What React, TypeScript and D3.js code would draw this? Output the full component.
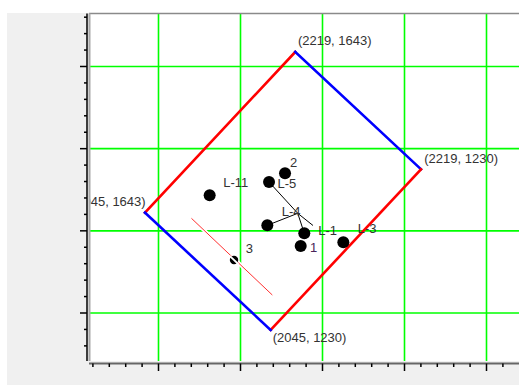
import React from "react";
import * as d3 from "d3";

// World axes (arbitrary survey units), gridlines every 100, minor ticks every 20
const xGridValues = [100, 200, 300, 400, 500];
const yGridValues = [100, 200, 300, 400];
const xMinorTicks = d3.range(20, 560, 20);
const yMinorTicks = d3.range(60, 480, 20);

// Local block frame (easting / northing) mapped onto the world axes
const localXExtent = [2045, 2219];
const localYExtent = [1230, 1643];
const frameOrigin = [236.8, 79.3]; // world position of (2045, 1230)
const frameSpanX = [183.3, 195.6]; // world offset across the local x extent
const frameSpanY = [-153.3, 142.8]; // world offset across the local y extent

// Block corners in local coordinates, with label offsets (px) and anchor
const cornerNames = ["top", "right", "bottom", "left"];
const cornerLocalX = [2219, 2219, 2045, 2045];
const cornerLocalY = [1643, 1230, 1230, 1643];
const cornerLabelDx = [2.6, 3.3, 2, 0.7];
const cornerLabelDy = [-6.7, -6, 11.7, -7];
const cornerLabelAnchor = ["start", "start", "start", "end"];

// Edge colours: constant-northing edges red, constant-easting edges blue
const edgeFrom = [3, 0, 1, 2];
const edgeTo = [0, 1, 2, 3];
const edgeColors = ["#ff0000", "#0000ff", "#ff0000", "#0000ff"];

// Points in world coordinates
const pointNames = ["L-11", "2", "L-5", "L-4", "L-1", "1", "L-3"];
const pointX = [162.4, 254.3, 234.8, 232.7, 277.8, 273.4, 325.4];
const pointY = [243.2, 270.0, 259.4, 206.7, 197.0, 181.5, 186.0];
const pointLabelDx = [13.5, 5, 8.5, 14.4, 14, 9.3, 14.4];
const pointLabelDy = [-8, -6, 6.3, -9.6, 1.7, 5.7, -9];
const pointLabelColors = ["#333", "#333", "#333", "#333", "#333", "#4a235a", "#333"];

// Small marker "3"
const markerName = "3";
const markerX = 192.1;
const markerY = 164.5;

// Tie lines from a common junction
const junction = [269.8, 221.3];
const tieEndX = [234.8, 232.7, 277.8, 288.4];
const tieEndY = [259.4, 206.7, 197.0, 206.5];

// Thin reference line
const refLineX = [140.2, 238.8];
const refLineY = [215.2, 121.9];

const W = 519;
const H = 385;
const plotLeft = 89;
const plotTop = 13.5;
const plotRight = 530;
const plotBottom = 361;

const xScale = d3.scaleLinear().domain([0, 600]).range([76.5, 568.5]);
const yScale = d3.scaleLinear().domain([0, 500]).range([395.17, -15.68]);

function toWorld(lx: number, ly: number): [number, number] {
  const t = (lx - localXExtent[0]) / (localXExtent[1] - localXExtent[0]);
  const s = (ly - localYExtent[0]) / (localYExtent[1] - localYExtent[0]);
  return [
    frameOrigin[0] + t * frameSpanX[0] + s * frameSpanY[0],
    frameOrigin[1] + t * frameSpanX[1] + s * frameSpanY[1],
  ];
}

const font = "'Liberation Sans', Arial, sans-serif";

export default function App() {
  const corners = cornerLocalX.map((lx, i) => {
    const [wx, wy] = toWorld(lx, cornerLocalY[i]);
    return { name: cornerNames[i], lx, ly: cornerLocalY[i], px: xScale(wx), py: yScale(wy) };
  });

  const line = d3.line<[number, number]>().x((d) => xScale(d[0])).y((d) => yScale(d[1]));

  const xMinor = xMinorTicks.map((v) => xScale(v)).filter((p) => p >= plotLeft && p <= W);
  const yMinor = yMinorTicks.map((v) => yScale(v)).filter((p) => p >= plotTop && p <= plotBottom);
  const xMajorSet = new Set(xGridValues);
  const yMajorSet = new Set(yGridValues);

  const mx = xScale(markerX);
  const my = yScale(markerY);
  const rdx = xScale(refLineX[1]) - xScale(refLineX[0]);
  const rdy = yScale(refLineY[1]) - yScale(refLineY[0]);
  const rlen = Math.hypot(rdx, rdy);
  const ux = rdx / rlen;
  const uy = rdy / rlen;

  return (
    <svg
      width={W}
      height={H}
      style={{ position: "absolute", left: 0, top: 0, display: "block" }}
      fontFamily={font}
    >
      <defs>
        <clipPath id="plot-clip">
          <rect x={plotLeft + 1} y={plotTop} width={plotRight - plotLeft} height={plotBottom - plotTop} />
        </clipPath>
      </defs>
      <rect x={0} y={0} width={W} height={H} fill="#ffffff" />
      <rect x={7} y={13} width={W - 7} height={H - 13} fill="#f0f0f0" />
      <rect x={plotLeft} y={plotTop} width={plotRight - plotLeft} height={plotBottom - plotTop} fill="#ffffff" />

      <g clipPath="url(#plot-clip)">
        {xGridValues.map((v) => (
          <line key={"gx" + v} x1={xScale(v)} x2={xScale(v)} y1={plotTop} y2={plotBottom} stroke="#00ff00" strokeWidth={1.6} />
        ))}
        {yGridValues.map((v) => (
          <line key={"gy" + v} x1={plotLeft} x2={plotRight} y1={yScale(v)} y2={yScale(v)} stroke="#00ff00" strokeWidth={1.6} />
        ))}

        {/* thin reference line with white halo */}
        <line
          x1={xScale(refLineX[0])} y1={yScale(refLineY[0])}
          x2={xScale(refLineX[1])} y2={yScale(refLineY[1])}
          stroke="#ffffff" strokeWidth={4}
        />
        <line
          x1={xScale(refLineX[0])} y1={yScale(refLineY[0])}
          x2={xScale(refLineX[1])} y2={yScale(refLineY[1])}
          stroke="#ff3030" strokeWidth={1}
        />

        {/* block outline */}
        {edgeFrom.map((a, i) => {
          const p = corners[a];
          const q = corners[edgeTo[i]];
          return (
            <line key={"e" + i} x1={p.px} y1={p.py} x2={q.px} y2={q.py} stroke={edgeColors[i]} strokeWidth={2.6} strokeLinecap="square" />
          );
        })}

        {corners.map((c, i) => (
          <text
            key={"c" + i}
            x={c.px + cornerLabelDx[i]}
            y={c.py + cornerLabelDy[i]}
            textAnchor={cornerLabelAnchor[i] as any}
            fontSize={13}
            fill="#333"
          >
            {`(${c.lx}, ${c.ly})`}
          </text>
        ))}

        {/* tie lines */}
        {tieEndX.map((ex, i) => (
          <path key={"t" + i} d={line([[junction[0], junction[1]], [ex, tieEndY[i]]]) || ""} stroke="#000" strokeWidth={1} fill="none" />
        ))}

        {/* marker 3 */}
        <circle cx={mx} cy={my} r={4.2} fill="#000" />
        <line x1={mx - ux * 6} y1={my - uy * 6} x2={mx + ux * 6} y2={my + uy * 6} stroke="#fff" strokeWidth={2} />
        <text x={mx + 11.7} y={my - 6.7} fontSize={13} fill="#333">{markerName}</text>

        {pointNames.map((n, i) => (
          <circle key={"p" + i} cx={xScale(pointX[i])} cy={yScale(pointY[i])} r={6} fill="#000" />
        ))}
        {pointNames.map((n, i) => (
          <text
            key={"pl" + i}
            x={xScale(pointX[i]) + pointLabelDx[i]}
            y={yScale(pointY[i]) + pointLabelDy[i]}
            fontSize={13}
            fill={pointLabelColors[i]}
          >
            {n}
          </text>
        ))}
      </g>

      {/* frame */}
      <line x1={plotLeft} x2={W} y1={plotTop} y2={plotTop} stroke="#8a8a8a" strokeWidth={1.5} />
      <line x1={plotLeft + 0.5} x2={plotLeft + 0.5} y1={plotTop} y2={plotBottom} stroke="#a8a8a8" strokeWidth={2} />

      {/* left axis */}
      <line x1={87} x2={87} y1={plotTop} y2={plotBottom} stroke="#000" strokeWidth={1.5} />
      {yMinor.map((p, i) => {
        const v = yMinorTicks.find((t) => yScale(t) === p) as number;
        const major = yMajorSet.has(v);
        return <line key={"yt" + i} x1={major ? 80 : 84} x2={87} y1={p} y2={p} stroke="#000" strokeWidth={1.5} />;
      })}

      {/* bottom axis */}
      <line x1={plotLeft} x2={W} y1={363.5} y2={363.5} stroke="#666" strokeWidth={2} />
      {xMinor.map((p, i) => {
        const v = xMinorTicks.find((t) => xScale(t) === p) as number;
        const major = xMajorSet.has(v);
        return <line key={"xt" + i} x1={p} x2={p} y1={363.5} y2={major ? 371 : 367} stroke="#000" strokeWidth={1.5} />;
      })}
    </svg>
  );
}
